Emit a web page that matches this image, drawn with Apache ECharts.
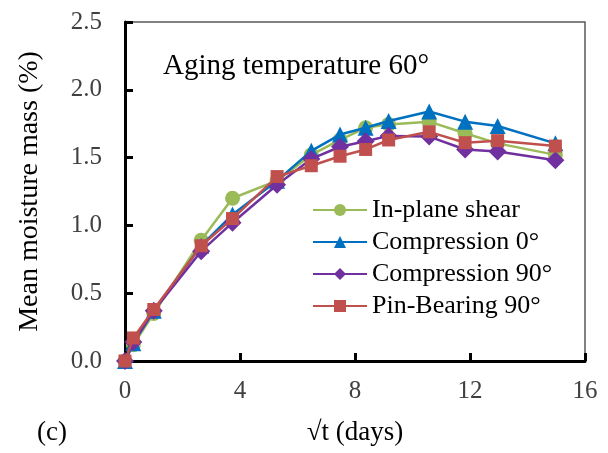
<!DOCTYPE html>
<html>
<head>
<meta charset="utf-8">
<script src="https://cdn.jsdelivr.net/npm/echarts@6/dist/echarts.min.js"></script>
<style>
  html, body { margin: 0; padding: 0; background: #fff; }
  #chart { width: 608px; height: 453px; }
</style>
</head>
<body>
<div id="chart"></div>
<script>
// Square root of ageing time (days^0.5) at each weighing
const sqrtDays = [0, 0.29, 1.0, 2.65, 3.74, 5.29, 6.48, 7.48, 8.37, 9.17, 10.58, 11.83, 12.96, 14.97];

// Mean moisture uptake (%) per specimen type
const inPlaneShear   = [0, 0.12, 0.35, 0.89, 1.20, 1.33, 1.52, 1.63, 1.72, 1.745, 1.765, 1.68, 1.605, 1.52];
const compression0   = [0, 0.13, 0.37, 0.85, 1.08, 1.33, 1.55, 1.67, 1.72, 1.77, 1.84, 1.765, 1.733, 1.605];
const compression90  = [0, 0.14, 0.37, 0.81, 1.02, 1.30, 1.49, 1.58, 1.62, 1.66, 1.655, 1.56, 1.545, 1.48];
const pinBearing90   = [0, 0.17, 0.38, 0.85, 1.05, 1.36, 1.44, 1.51, 1.56, 1.63, 1.69, 1.61, 1.625, 1.585];

const seriesNames = ['In-plane shear', 'Compression 0°', 'Compression 90°', 'Pin-Bearing 90°'];
const xTicks = [0, 4, 8, 12, 16];
const yTicks = [0, 0.5, 1.0, 1.5, 2.0, 2.5];

const pairs = (ys) => sqrtDays.map((x, i) => [x, ys[i]]);
const serif = '"Liberation Serif", "Times New Roman", serif';

const styles = [
  { color: '#9BBB59', symbol: 'circle',   size: 15 },
  { color: '#0070C0', symbol: 'triangle', size: 16 },
  { color: '#7030A0', symbol: 'diamond',  size: 18 },
  { color: '#C0504D', symbol: 'rect',     size: 13 }
];
const values = [inPlaneShear, compression0, compression90, pinBearing90];

const chart = echarts.init(document.getElementById('chart'), null, { renderer: 'canvas' });

chart.setOption({
  backgroundColor: '#ffffff',
  animation: false,
  textStyle: { fontFamily: serif },
  grid: {
    left: 125, top: 22, right: 23, bottom: 92,
    show: true, borderColor: '#595959', borderWidth: 1.5, backgroundColor: 'transparent'
  },
  title: {
    text: 'Aging temperature 60°',
    left: 158, top: 47,
    textStyle: { fontFamily: serif, fontSize: 29, fontWeight: 'normal', color: '#000' }
  },
  legend: {
    data: seriesNames,
    orient: 'vertical',
    left: 307, top: 192,
    itemWidth: 54, itemHeight: 15, itemGap: 6,
    textStyle: { fontFamily: serif, fontSize: 26, color: '#000', padding: [0, 0, 0, 0] }
  },
  graphic: [{
    type: 'text', left: 37, top: 419,
    style: { text: '(c)', font: '27px ' + serif, fill: '#000' }
  }],
  xAxis: {
    type: 'value', min: xTicks[0], max: xTicks[xTicks.length - 1], interval: 4,
    name: '√t (days)', nameLocation: 'middle', nameGap: 58,
    nameTextStyle: { fontFamily: serif, fontSize: 27, color: '#000' },
    axisLine: { lineStyle: { color: '#000', width: 3 } },
    axisTick: { inside: true, length: 8, lineStyle: { color: '#000', width: 3 } },
    axisLabel: { margin: 18, fontFamily: serif, fontSize: 25, color: '#404040' },
    splitLine: { show: false }
  },
  yAxis: {
    type: 'value', min: yTicks[0], max: yTicks[yTicks.length - 1], interval: 0.5,
    name: 'Mean moisture mass (%)', nameLocation: 'middle', nameGap: 81,
    nameTextStyle: { fontFamily: serif, fontSize: 28, color: '#000' },
    axisLine: { show: true, lineStyle: { color: '#000', width: 3 } },
    axisTick: { show: true, inside: true, length: 8, lineStyle: { color: '#000', width: 3 } },
    axisLabel: { margin: 23, fontFamily: serif, fontSize: 25, color: '#404040',
                 formatter: (v) => v.toFixed(1) },
    splitLine: { show: false }
  },
  series: values.map((ys, i) => ({
    name: seriesNames[i],
    type: 'line',
    data: pairs(ys),
    symbol: styles[i].symbol,
    symbolSize: styles[i].size,
    showAllSymbol: true,
    clip: false,
    itemStyle: { color: styles[i].color },
    lineStyle: { color: styles[i].color, width: 2.5 },
    z: 2 + i
  }))
});
</script>
</body>
</html>
